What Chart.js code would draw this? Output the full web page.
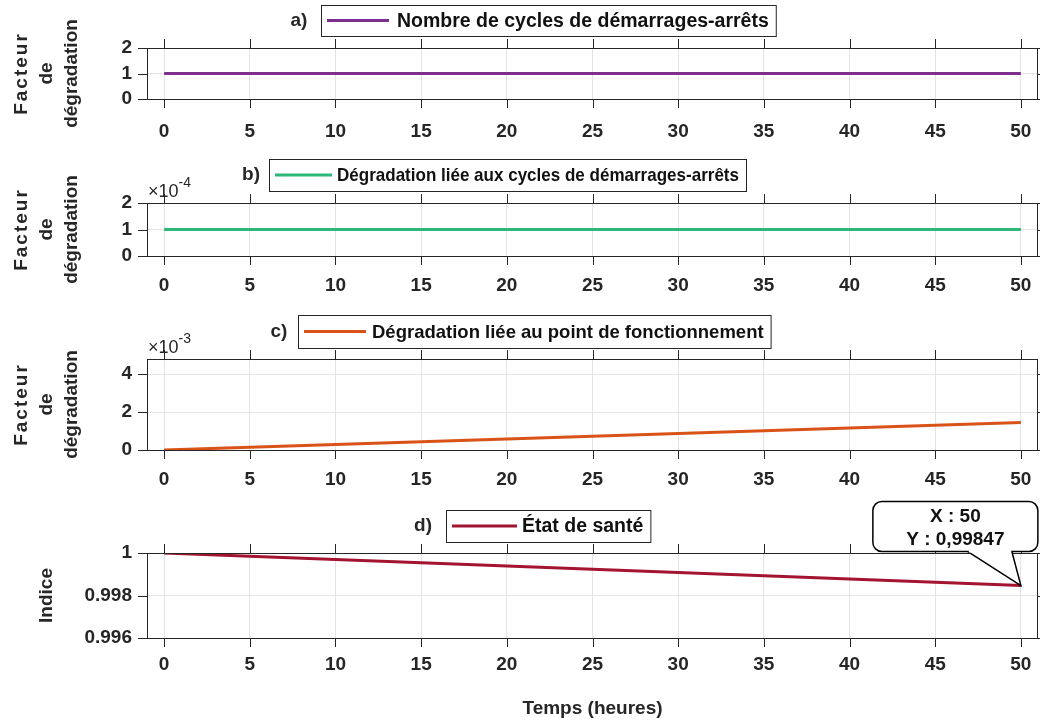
<!DOCTYPE html>
<html>
<head>
<meta charset="utf-8">
<script src="https://cdn.jsdelivr.net/npm/chart.js@4.4.1/dist/chart.umd.min.js"></script>
<style>
  html, body { margin: 0; padding: 0; background: #fff; }
  #wrap { position: relative; width: 1040px; height: 723px; }
  #wrap canvas { position: absolute; left: 0; }
</style>
</head>
<body>
<div id="wrap">
  <canvas id="panelA"></canvas>
  <canvas id="panelB"></canvas>
  <canvas id="panelC"></canvas>
  <canvas id="panelD"></canvas>
</div>
<script>
// time axis (hours)
const hours = [0, 5, 10, 15, 20, 25, 30, 35, 40, 45, 50];
const xTicks = [0, 5, 10, 15, 20, 25, 30, 35, 40, 45, 50];

// a) number of start-stop cycles
const cycles = [1, 1, 1, 1, 1, 1, 1, 1, 1, 1, 1];
const cyclesTicks = [0, 1, 2];

// b) degradation due to start-stop cycles
const cycleDeg = [1e-4, 1e-4, 1e-4, 1e-4, 1e-4, 1e-4, 1e-4, 1e-4, 1e-4, 1e-4, 1e-4];
const cycleDegTicks = [0, 1e-4, 2e-4];

// c) degradation due to operating point
const opDeg = [0, 0.145e-3, 0.29e-3, 0.435e-3, 0.58e-3, 0.725e-3, 0.87e-3, 1.015e-3, 1.16e-3, 1.305e-3, 1.45e-3];
const opDegTicks = [0, 2e-3, 4e-3];

// d) state of health
const health = [1, 0.99985, 0.99969, 0.99954, 0.99939, 0.99924, 0.99908, 0.99893, 0.99878, 0.99862, 0.99847];
const healthTicks = [0.996, 0.998, 1];

const FONT = '"Liberation Sans", Arial, sans-serif';
const INK = '#262626';
const PLOT_LEFT = 147, PLOT_RIGHT = 1038;

const panelDeco = {
    id: 'panelDeco',
    afterDraw(chart, args, o) {
        const { ctx, chartArea: a, scales: { x, y } } = chart;
        ctx.save();
        // box + outward ticks
        ctx.strokeStyle = INK;
        ctx.lineWidth = 1;
        ctx.strokeRect(a.left + 0.5, a.top + 0.5, a.right - a.left - 1, a.bottom - a.top);
        ctx.beginPath();
        x.ticks.forEach(t => {
            const px = Math.round(x.getPixelForValue(t.value)) + 0.5;
            ctx.moveTo(px, a.top); ctx.lineTo(px, a.top - 9);
            ctx.moveTo(px, a.bottom); ctx.lineTo(px, a.bottom + 9);
        });
        y.ticks.forEach(t => {
            const py = Math.round(y.getPixelForValue(t.value)) + 0.5;
            ctx.moveTo(a.left, py); ctx.lineTo(a.left - 9, py);
            ctx.moveTo(a.right, py); ctx.lineTo(a.right + 9, py);
        });
        ctx.stroke();

        // y title (rotated, possibly multi-line)
        ctx.fillStyle = INK;
        ctx.font = 'bold 19px ' + FONT;
        ctx.textAlign = 'center';
        ctx.textBaseline = 'middle';
        ctx.save();
        ctx.translate(47, (a.top + a.bottom) / 2);
        ctx.rotate(-Math.PI / 2);
        const n = o.yTitle.length;
        o.yTitle.forEach((line, i) => {
            ctx.letterSpacing = (n > 1 && i === 0) ? '2px' : '0px';
            ctx.fillText(line, 0, (i - (n - 1) / 2) * 25);
        });
        ctx.letterSpacing = '0px';
        ctx.restore();

        // exponent label
        if (o.exponent) {
            ctx.textAlign = 'left';
            ctx.textBaseline = 'alphabetic';
            ctx.font = '18px ' + FONT;
            ctx.fillText('\u00d710', a.left + 1, a.top - 6);
            const w = ctx.measureText('\u00d710').width;
            ctx.font = '14px ' + FONT;
            ctx.fillText(o.exponent, a.left + 1 + w, a.top - 16);
        }

        // tag + legend box
        const L = o.legend;
        const mid = L.top + L.h / 2;
        ctx.font = 'bold 19px ' + FONT;
        ctx.textAlign = 'center';
        ctx.textBaseline = 'middle';
        ctx.fillText(o.tag, L.tagX, mid);
        ctx.font = 'bold ' + L.size + 'px ' + FONT;
        const natural = ctx.measureText(o.label).width;
        const tw = L.textW || natural;
        const w = L.textOff + tw + 7;
        ctx.fillStyle = '#fff';
        ctx.fillRect(L.left, L.top, w, L.h);
        ctx.strokeStyle = INK;
        ctx.lineWidth = 1;
        ctx.strokeRect(L.left + 0.5, L.top + 0.5, w, L.h);
        ctx.beginPath();
        ctx.strokeStyle = o.color;
        ctx.lineWidth = 3;
        ctx.moveTo(L.left + 6, mid); ctx.lineTo(L.left + 6 + L.lineLen, mid);
        ctx.stroke();
        ctx.fillStyle = '#111';
        ctx.textAlign = 'left';
        ctx.save();
        ctx.translate(L.left + L.textOff, mid + 1);
        ctx.scale(tw / natural, 1);
        ctx.fillText(o.label, 0, 0);
        ctx.restore();

        // x title
        if (o.xTitle) {
            ctx.font = 'bold 19px ' + FONT;
            ctx.fillStyle = INK;
            ctx.textAlign = 'center';
            ctx.fillText(o.xTitle, (a.left + a.right) / 2, o.xTitleY);
        }

        // data tip on last point
        if (o.datatip) {
            const meta = chart.getDatasetMeta(0);
            const last = meta.data[meta.data.length - 1];
            const ds = chart.data.datasets[0].data;
            const v = ds[ds.length - 1];
            const px = last.x, py = last.y;
            const bl = px - 148, br = px + 17, bt = py - 84, bb = py - 34;
            ctx.beginPath();
            ctx.roundRect(bl, bt, br - bl, bb - bt, 9);
            ctx.fillStyle = '#fff';
            ctx.fill();
            ctx.strokeStyle = '#000';
            ctx.lineWidth = 1.5;
            ctx.stroke();
            // pointer
            ctx.beginPath();
            ctx.moveTo(px - 53, bb);
            ctx.lineTo(px, py);
            ctx.lineTo(px - 9, bb);
            ctx.fillStyle = '#fff';
            ctx.fill();
            ctx.stroke();
            ctx.fillRect(px - 52, bb - 2, 42, 3);
            ctx.fillStyle = '#111';
            ctx.font = 'bold 19px ' + FONT;
            ctx.textAlign = 'center';
            const cx = (bl + br) / 2;
            ctx.fillText('X : ' + v.x, cx, bt + 15);
            ctx.fillText('Y : ' + v.y.toFixed(5).replace('.', ','), cx, bt + 38);
        }
        ctx.restore();
    }
};

function makePanel(id, p) {
    const canvas = document.getElementById(id);
    canvas.style.top = p.regionTop + 'px';
    canvas.width = 1040;
    canvas.height = p.regionHeight;
    canvas.style.width = '1040px';
    canvas.style.height = p.regionHeight + 'px';
    const plotBottomLocal = p.plotBottom - p.regionTop;
    return new Chart(canvas, {
        type: 'line',
        data: {
            datasets: [{
                data: hours.map((h, i) => ({ x: h, y: p.values[i] })),
                borderColor: p.color,
                borderWidth: 3,
                pointRadius: 0,
                tension: 0,
                fill: false
            }]
        },
        options: {
            responsive: false,
            animation: false,
            events: [],
            layout: { padding: { top: p.plotTop - p.regionTop, right: 1040 - PLOT_RIGHT, left: 0, bottom: 0 } },
            plugins: {
                legend: { display: false },
                tooltip: { enabled: false },
                panelDeco: p.deco
            },
            scales: {
                x: {
                    type: 'linear',
                    min: -1, max: 51,
                    afterBuildTicks: s => { s.ticks = xTicks.map(v => ({ value: v })); },
                    afterFit: s => { s.height = p.regionHeight - plotBottomLocal; s.paddingLeft = 0; s.paddingRight = 0; },
                    grid: { color: '#e4e4e4', drawTicks: false },
                    border: { display: false },
                    ticks: { color: INK, font: { family: FONT, size: 19, weight: 'bold' }, padding: p.xPad || 18, maxRotation: 0, autoSkip: false }
                },
                y: {
                    type: 'linear',
                    min: p.yMin, max: p.yMax,
                    afterBuildTicks: s => { s.ticks = p.yTicks.map(v => ({ value: v })); },
                    afterFit: s => { s.width = PLOT_LEFT; s.paddingTop = 0; s.paddingBottom = 0; },
                    grid: { color: '#e4e4e4', drawTicks: false },
                    border: { display: false },
                    ticks: {
                        color: INK, font: { family: FONT, size: 19, weight: 'bold' }, padding: 15, autoSkip: false,
                        callback: v => p.fmt(v)
                    }
                }
            }
        },
        plugins: [panelDeco]
    });
}

const factorTitle = ['Facteur', 'de', 'dégradation'];

makePanel('panelA', {
    regionTop: 0, regionHeight: 150, plotTop: 48, plotBottom: 99, xPad: 21,
    values: cycles, color: '#7E2F8E', yMin: 0, yMax: 2, yTicks: cyclesTicks,
    fmt: v => String(v),
    deco: { yTitle: factorTitle, tag: 'a)', label: 'Nombre de cycles de démarrages-arrêts', color: '#7E2F8E',
            legend: { left: 321, top: 5, h: 31, tagX: 299, size: 19.5, lineLen: 62, textOff: 76 } }
});

makePanel('panelB', {
    regionTop: 150, regionHeight: 150, plotTop: 203, plotBottom: 256,
    values: cycleDeg, color: '#2DB87A', yMin: 0, yMax: 2e-4, yTicks: cycleDegTicks,
    fmt: v => String(Math.round(v / 1e-4)),
    deco: { yTitle: factorTitle, tag: 'b)', label: 'Dégradation liée aux cycles de démarrages-arrêts', color: '#2DB87A',
            exponent: '-4', legend: { left: 269, top: 9, h: 32, tagX: 251, size: 19, textW: 402, lineLen: 57, textOff: 68 } }
});

makePanel('panelC', {
    regionTop: 300, regionHeight: 190, plotTop: 359, plotBottom: 450,
    values: opDeg, color: '#D95319', yMin: 0, yMax: 4.8e-3, yTicks: opDegTicks,
    fmt: v => String(Math.round(v / 1e-3)),
    deco: { yTitle: factorTitle, tag: 'c)', label: 'Dégradation liée au point de fonctionnement', color: '#D95319',
            exponent: '-3', legend: { left: 298, top: 15, h: 33, tagX: 279, size: 18.5, lineLen: 62, textOff: 74 } }
});

makePanel('panelD', {
    regionTop: 490, regionHeight: 233, plotTop: 553, plotBottom: 638, xPad: 15,
    values: health, color: '#A2142F', yMin: 0.996, yMax: 1, yTicks: healthTicks,
    fmt: v => String(Math.round(v * 1000) / 1000),
    deco: { yTitle: ['Indice'], tag: 'd)', label: 'État de santé', color: '#A2142F',
            legend: { left: 446, top: 20, h: 32, tagX: 423, size: 19.5, lineLen: 65, textOff: 76 },
            xTitle: 'Temps (heures)', xTitleY: 219, datatip: true }
});
</script>
</body>
</html>
